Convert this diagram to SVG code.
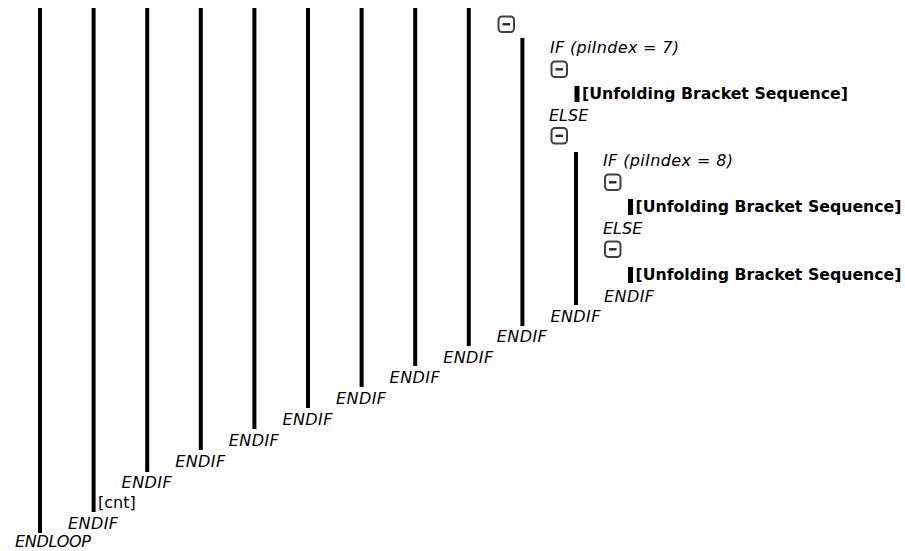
<svg xmlns="http://www.w3.org/2000/svg" xmlns:xlink="http://www.w3.org/1999/xlink" width="905" height="551" viewBox="0 0 905 551">
<style>
.bar{fill:#000}
.t{font-family:"DejaVu Sans",Verdana,sans-serif;font-size:16px;fill:#000}
.it{font-style:italic}
.b{font-weight:bold}
.ib{fill:#fff;stroke:#404040;stroke-width:2}
.im{stroke:#2a2a2a;stroke-width:2.4}
</style>
<defs>
<g id="minus"><rect class="ib" x="1" y="1" width="15.5" height="15.5" rx="3.5"/><line class="im" x1="5" y1="8.8" x2="12.5" y2="8.8"/></g>
</defs>
<rect width="905" height="551" fill="#fff"/>
<g id="connectors">
<rect class="bar" x="38" y="8" width="4" height="525"/>
<rect class="bar" x="91.6" y="8" width="4" height="504"/>
<rect class="bar" x="145.2" y="8" width="4" height="464"/>
<rect class="bar" x="198.8" y="8" width="4" height="442"/>
<rect class="bar" x="252.4" y="8" width="4" height="421"/>
<rect class="bar" x="306" y="8" width="4" height="400"/>
<rect class="bar" x="359.6" y="8" width="4" height="379"/>
<rect class="bar" x="413.2" y="8" width="4" height="358"/>
<rect class="bar" x="466.8" y="8" width="4" height="338"/>
<rect class="bar" x="520.4" y="38" width="4" height="288"/>
<rect class="bar" x="574" y="152" width="4" height="153"/>
</g>
<g id="icon1"><use xlink:href="#minus" x="497.5" y="15.5"/></g>
<g id="if7"><text class="t it" x="550" y="53" textLength="129" lengthAdjust="spacing">IF (piIndex = 7)</text></g>
<g id="icon2"><use xlink:href="#minus" x="550.5" y="60.5"/></g>
<g id="seq1"><rect class="bar" x="574.5" y="86" width="5" height="16"/><text class="t b" x="582" y="99" textLength="266" lengthAdjust="spacingAndGlyphs">[Unfolding Bracket Sequence]</text></g>
<g id="else1"><text class="t it" x="549" y="121">ELSE</text></g>
<g id="icon3"><use xlink:href="#minus" x="550.5" y="127"/></g>
<g id="if8"><text class="t it" x="603" y="166" textLength="130" lengthAdjust="spacing">IF (piIndex = 8)</text></g>
<g id="icon4"><use xlink:href="#minus" x="604" y="173.5"/></g>
<g id="seq2"><rect class="bar" x="628" y="199" width="5" height="16"/><text class="t b" x="635.5" y="212" textLength="266" lengthAdjust="spacingAndGlyphs">[Unfolding Bracket Sequence]</text></g>
<g id="else2"><text class="t it" x="603" y="234">ELSE</text></g>
<g id="icon5"><use xlink:href="#minus" x="604" y="240.5"/></g>
<g id="seq3"><rect class="bar" x="628" y="267" width="5" height="16"/><text class="t b" x="635.5" y="280" textLength="266" lengthAdjust="spacingAndGlyphs">[Unfolding Bracket Sequence]</text></g>
<g id="endif10"><text class="t it" x="604" y="302" textLength="50">ENDIF</text></g>
<g id="endif9"><text class="t it" x="550.4" y="322" textLength="50">ENDIF</text></g>
<g id="endif8"><text class="t it" x="496.8" y="342" textLength="50">ENDIF</text></g>
<g id="endif7"><text class="t it" x="443.2" y="362.5" textLength="50">ENDIF</text></g>
<g id="endif6"><text class="t it" x="389.6" y="383" textLength="50">ENDIF</text></g>
<g id="endif5"><text class="t it" x="336" y="404" textLength="50">ENDIF</text></g>
<g id="endif4"><text class="t it" x="282.4" y="425" textLength="50">ENDIF</text></g>
<g id="endif3"><text class="t it" x="228.8" y="446" textLength="50">ENDIF</text></g>
<g id="endif2"><text class="t it" x="175.2" y="467" textLength="50">ENDIF</text></g>
<g id="endif1"><text class="t it" x="121.6" y="488" textLength="50">ENDIF</text></g>
<g id="cnt"><text class="t" x="98" y="508">[cnt]</text></g>
<g id="endif0"><text class="t it" x="68" y="529" textLength="50">ENDIF</text></g>
<g id="endloop"><text class="t it" x="15" y="547" textLength="76">ENDLOOP</text></g>
</svg>
